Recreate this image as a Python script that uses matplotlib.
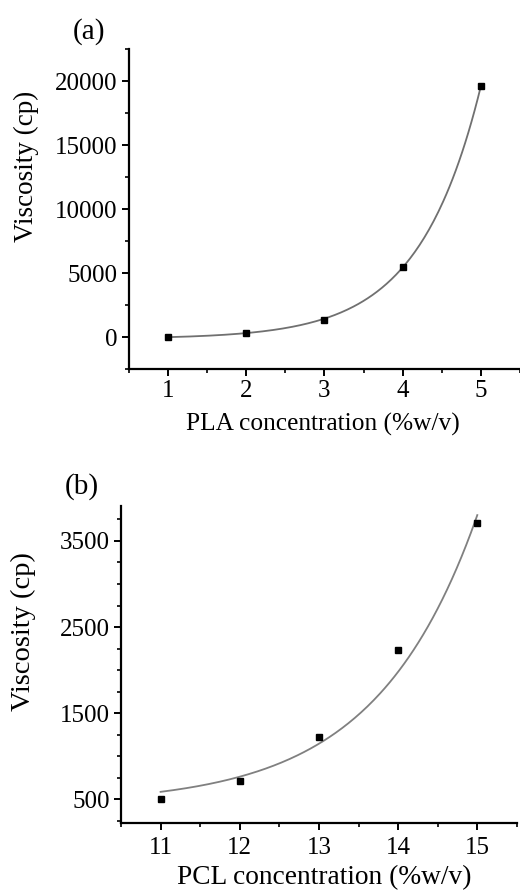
import numpy as np
import matplotlib
matplotlib.use("Agg")
import matplotlib.pyplot as plt
from matplotlib.ticker import MultipleLocator

plt.rcParams['font.family'] = ['Liberation Serif', 'DejaVu Serif']

# Panel (a): PLA
pla_conc = [1, 2, 3, 4, 5]
pla_visc = [30, 350, 1300, 5500, 19600]
# Panel (b): PCL
pcl_conc = [11, 12, 13, 14, 15]
pcl_visc = [510, 716, 1228, 2236, 3712]
# Exponential growth fit shown in panel (b): y = y0 + A*exp(B*(x - x0))
pcl_fit_y0, pcl_fit_A, pcl_fit_B, pcl_fit_x0 = 439, 149, 0.779, 11


def exp_fit(x, y):
    x = np.asarray(x, float); y = np.asarray(y, float)
    best = None
    for b in np.linspace(0.05, 3.0, 3000):
        M = np.column_stack([np.ones_like(x), np.exp(b * x)])
        coef, *_ = np.linalg.lstsq(M, y, rcond=None)
        r = np.sum((M @ coef - y) ** 2)
        if best is None or r < best[0]:
            best = (r, b, coef)
    _, b, coef = best
    return lambda t: coef[0] + coef[1] * np.exp(b * t)


fig = plt.figure(figsize=(5.2, 8.92), dpi=100)

ax1 = fig.add_axes([0.248, 0.5863, 0.752, 0.3587])
ax2 = fig.add_axes([0.2327, 0.0777, 0.7613, 0.3545])

fa = exp_fit(pla_conc, pla_visc)
xa = np.linspace(min(pla_conc), max(pla_conc), 200)
ax1.plot(xa, fa(xa), color='#707070', lw=1.3, zorder=2)
ax1.plot(pla_conc, pla_visc, 's', color='black', ms=5, zorder=3)
ax1.set_xlim(0.5, 5.5)
ax1.set_ylim(-2500, 22500)
ax1.set_xticks([1, 2, 3, 4, 5])
ax1.set_yticks([0, 5000, 10000, 15000, 20000])
ax1.xaxis.set_minor_locator(MultipleLocator(0.5))
ax1.yaxis.set_minor_locator(MultipleLocator(2500))

xb = np.linspace(min(pcl_conc), max(pcl_conc), 200)
yb = pcl_fit_y0 + pcl_fit_A * np.exp(pcl_fit_B * (xb - pcl_fit_x0))
ax2.plot(xb, yb, color='#808080', lw=1.3, zorder=2)
ax2.plot(pcl_conc, pcl_visc, 's', color='black', ms=5, zorder=3)
ax2.set_xlim(10.5, 15.5)
ax2.set_ylim(230, 3900)
ax2.set_xticks([11, 12, 13, 14, 15])
ax2.set_yticks([500, 1500, 2500, 3500])
ax2.xaxis.set_minor_locator(MultipleLocator(0.5))
ax2.yaxis.set_minor_locator(MultipleLocator(250))

for ax in (ax1, ax2):
    ax.spines['top'].set_visible(False)
    ax.spines['right'].set_visible(False)
    ax.spines['left'].set_linewidth(1.6)
    ax.spines['bottom'].set_linewidth(1.6)
    ax.tick_params(which='major', direction='out', length=5, width=1.4,
                   labelsize=18, pad=3)
    ax.tick_params(which='minor', direction='out', length=3, width=1.2)
ax2.tick_params(axis='x', which='major', pad=5)

ax1.set_ylabel('Viscosity (cp)', fontsize=19.5)
ax1.yaxis.set_label_coords(-0.231, 0.634)
ax1.set_xlabel('PLA concentration (%w/v)', fontsize=18.3)
ax1.xaxis.set_label_coords(0.496, -0.137)

ax2.set_ylabel('Viscosity (cp)', fontsize=20.5)
ax2.yaxis.set_label_coords(-0.215, 0.603)
ax2.set_xlabel('PCL concentration (%w/v)', fontsize=19.7)
ax2.xaxis.set_label_coords(0.513, -0.133)

fig.text(89 / 520, 1 - 32 / 892, '(a)', fontsize=21, ha='center', va='center')
fig.text(82 / 520, 1 - 487 / 892, '(b)', fontsize=21, ha='center', va='center')

fig.savefig('out.png', dpi=100)
